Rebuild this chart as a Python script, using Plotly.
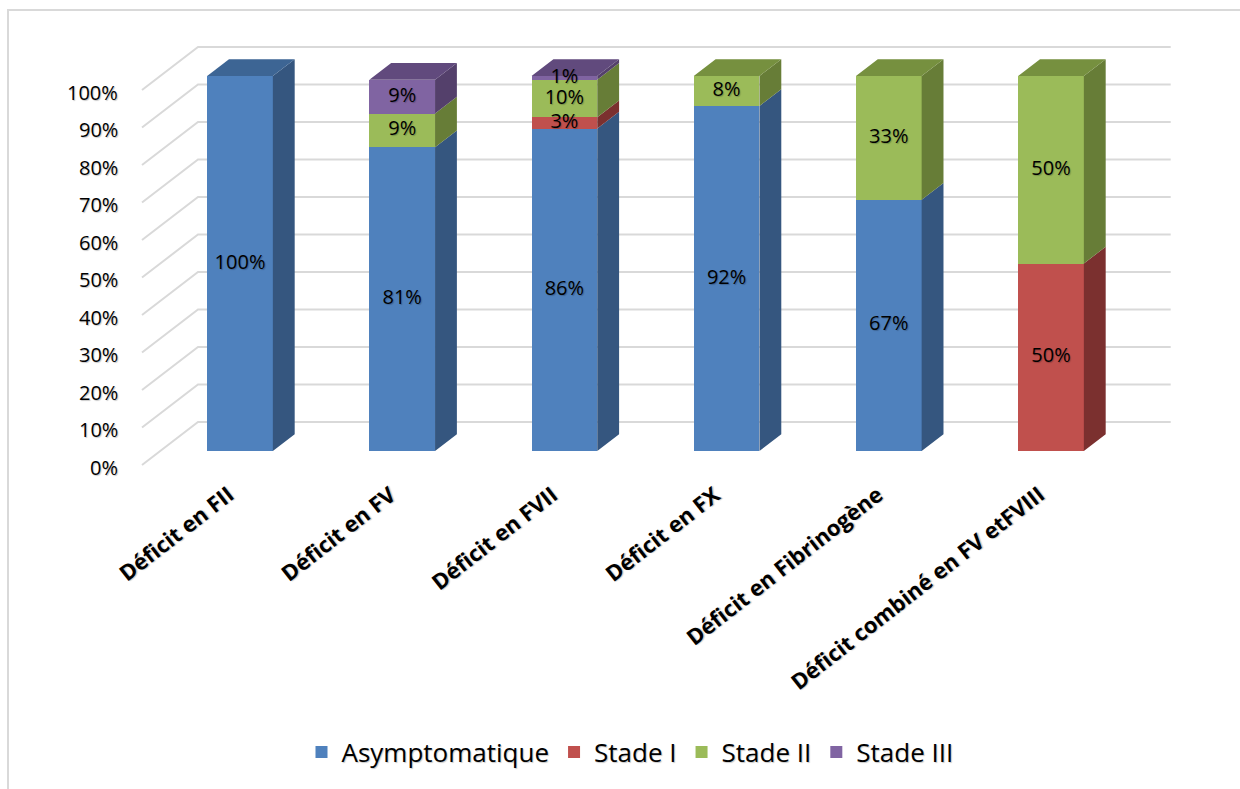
import plotly.graph_objects as go

# ---------------- data ----------------
categories = ["Déficit en FII", "Déficit en FV", "Déficit en FVII",
              "Déficit en FX", "Déficit en Fibrinogène", "Déficit combiné en FV etFVIII"]
asymptomatique = [100, 81, 86, 92, 67, 0]
stade_1 = [0, 0, 3, 0, 0, 50]
stade_2 = [0, 9, 10, 8, 33, 50]
stade_3 = [0, 9, 1, 0, 0, 0]
series_names = ["Asymptomatique", "Stade I", "Stade II", "Stade III"]
y_ticks = [0, 10, 20, 30, 40, 50, 60, 70, 80, 90, 100]

series_values = [asymptomatique, stade_1, stade_2, stade_3]
front_colors = ["#4F81BD", "#C0504D", "#9BBB59", "#8064A2"]
side_colors = ["#35567F", "#7B302F", "#677D37", "#54406B"]
top_colors = ["#3D6594", "#8F3A38", "#76903F", "#614A7D"]

# ---------------- geometry (pixel calibration) ----------------
W, H = 1240, 789
X0_PX, STEP_PX = 240.0, 162.2      # first category centre, category spacing
Y0_PX, PX_PER_PCT = 451.0, 3.75     # 0 % baseline of bar fronts, scale


def x_of(px):
    return (px - X0_PX) / STEP_PX


def v_of(py):
    return (Y0_PX - py) / PX_PER_PCT


def paper_x(px):
    return px / W


def paper_y(py):
    return 1 - py / H


DX = 56.0 / STEP_PX          # full wall depth, x units
DY = 43.0 / PX_PER_PCT       # full wall depth, % units
D_FRONT, D_BACK, D_BAR = -0.326, 0.674, 0.39
BAR_W = 65.7 / STEP_PX
WALL_L = x_of(142) - D_FRONT * DX
WALL_R = x_of(1170.7) - D_BACK * DX
GRID_COLOR = "#D9D9D9"
FONT = "Open Sans"
SHADOW = "1px 1px 1px rgba(0,0,0,0.22)"

fig = go.Figure()

# ---------------- 3D gridlines (walls) ----------------
shapes = []
for t in y_ticks:
    p1 = (WALL_L + D_FRONT * DX, t + D_FRONT * DY)
    p2 = (WALL_L + D_BACK * DX, t + D_BACK * DY)
    p3 = (WALL_R + D_BACK * DX, t + D_BACK * DY)
    path = f"M {p1[0]},{p1[1]} L {p2[0]},{p2[1]} L {p3[0]},{p3[1]}"
    shapes.append(dict(type="path", path=path, xref="x", yref="y", layer="below",
                       line=dict(color=GRID_COLOR, width=2)))

# chart frame
shapes.append(dict(type="rect", xref="paper", yref="paper",
                   x0=paper_x(8), x1=paper_x(1260), y0=paper_y(810), y1=paper_y(10),
                   line=dict(color=GRID_COLOR, width=2), layer="below"))

idx = list(range(len(categories)))

# ---------------- front faces ----------------
for name, vals, col in zip(series_names, series_values, front_colors):
    fig.add_trace(go.Bar(x=idx, y=vals, name=name, width=BAR_W,
                         marker=dict(color=col, line=dict(width=0)),
                         hoverinfo="skip"))

# ---------------- side and top faces ----------------
bases = [0.0] * len(categories)
tops = [sum(s[i] for s in series_values) for i in idx]
label_x, label_y, label_t = [], [], []
for s, vals in enumerate(series_values):
    sx, sy, tx, ty = [], [], [], []
    for i in idx:
        v = vals[i]
        if v <= 0:
            continue
        b = bases[i]
        xl, xr = i - BAR_W / 2, i + BAR_W / 2
        ox, oy = D_BAR * DX, D_BAR * DY
        sx += [xr, xr + ox, xr + ox, xr, xr, None]
        sy += [b, b + oy, b + v + oy, b + v, b, None]
        if abs(b + v - tops[i]) < 1e-9:
            tx += [xl, xl + ox, xr + ox, xr, xl, None]
            ty += [b + v, b + v + oy, b + v + oy, b + v, b + v, None]
        label_x.append(i)
        label_y.append(b + v / 2)
        label_t.append(f"{v}%")
        bases[i] = b + v
    if sx:
        fig.add_trace(go.Scatter(x=sx, y=sy, mode="lines", fill="toself",
                                 fillcolor=side_colors[s], line=dict(width=0, color=side_colors[s]),
                                 showlegend=False, hoverinfo="skip"))
    if tx:
        fig.add_trace(go.Scatter(x=tx, y=ty, mode="lines", fill="toself",
                                 fillcolor=top_colors[s], line=dict(width=0, color=top_colors[s]),
                                 showlegend=False, hoverinfo="skip"))

# ---------------- data labels ----------------
fig.add_trace(go.Scatter(x=label_x, y=label_y, text=label_t, mode="text",
                         textposition="middle center",
                         textfont=dict(family=FONT, size=20, color="#000000", shadow=SHADOW),
                         showlegend=False, hoverinfo="skip"))

annotations = []
# ---------------- y tick labels (front edge of side wall) ----------------
for t in y_ticks:
    annotations.append(dict(x=x_of(120), y=t + D_FRONT * DY - 0.6, xref="x", yref="y",
                            text=f"{t}%", showarrow=False, xanchor="right", yanchor="middle",
                            font=dict(family=FONT, size=20, color="#000000", shadow=SHADOW)))

# ---------------- category labels ----------------
for i, c in enumerate(categories):
    annotations.append(dict(x=i + 2 / STEP_PX, y=v_of(476), xref="x", yref="y",
                            text=c, showarrow=False, textangle=-38,
                            xanchor="right", yanchor="top",
                            font=dict(family=FONT, size=22, color="#000000", weight="bold",
                                      shadow=SHADOW)))

fig.update_layout(
    width=W, height=H,
    margin=dict(l=0, r=0, t=0, b=0),
    paper_bgcolor="white", plot_bgcolor="white",
    barmode="stack",
    xaxis=dict(visible=False, range=[x_of(0), x_of(W)], fixedrange=True),
    yaxis=dict(visible=False, range=[v_of(H), v_of(0)], fixedrange=True),
    shapes=shapes,
    annotations=annotations,
    showlegend=True,
    legend=dict(orientation="h", x=paper_x(630), xanchor="center",
                y=paper_y(752), yanchor="middle",
                font=dict(family=FONT, size=26, color="#000000", shadow=SHADOW),
                traceorder="normal", itemclick=False, itemdoubleclick=False),
    font=dict(family=FONT),
)

fig.write_html("out.html")
